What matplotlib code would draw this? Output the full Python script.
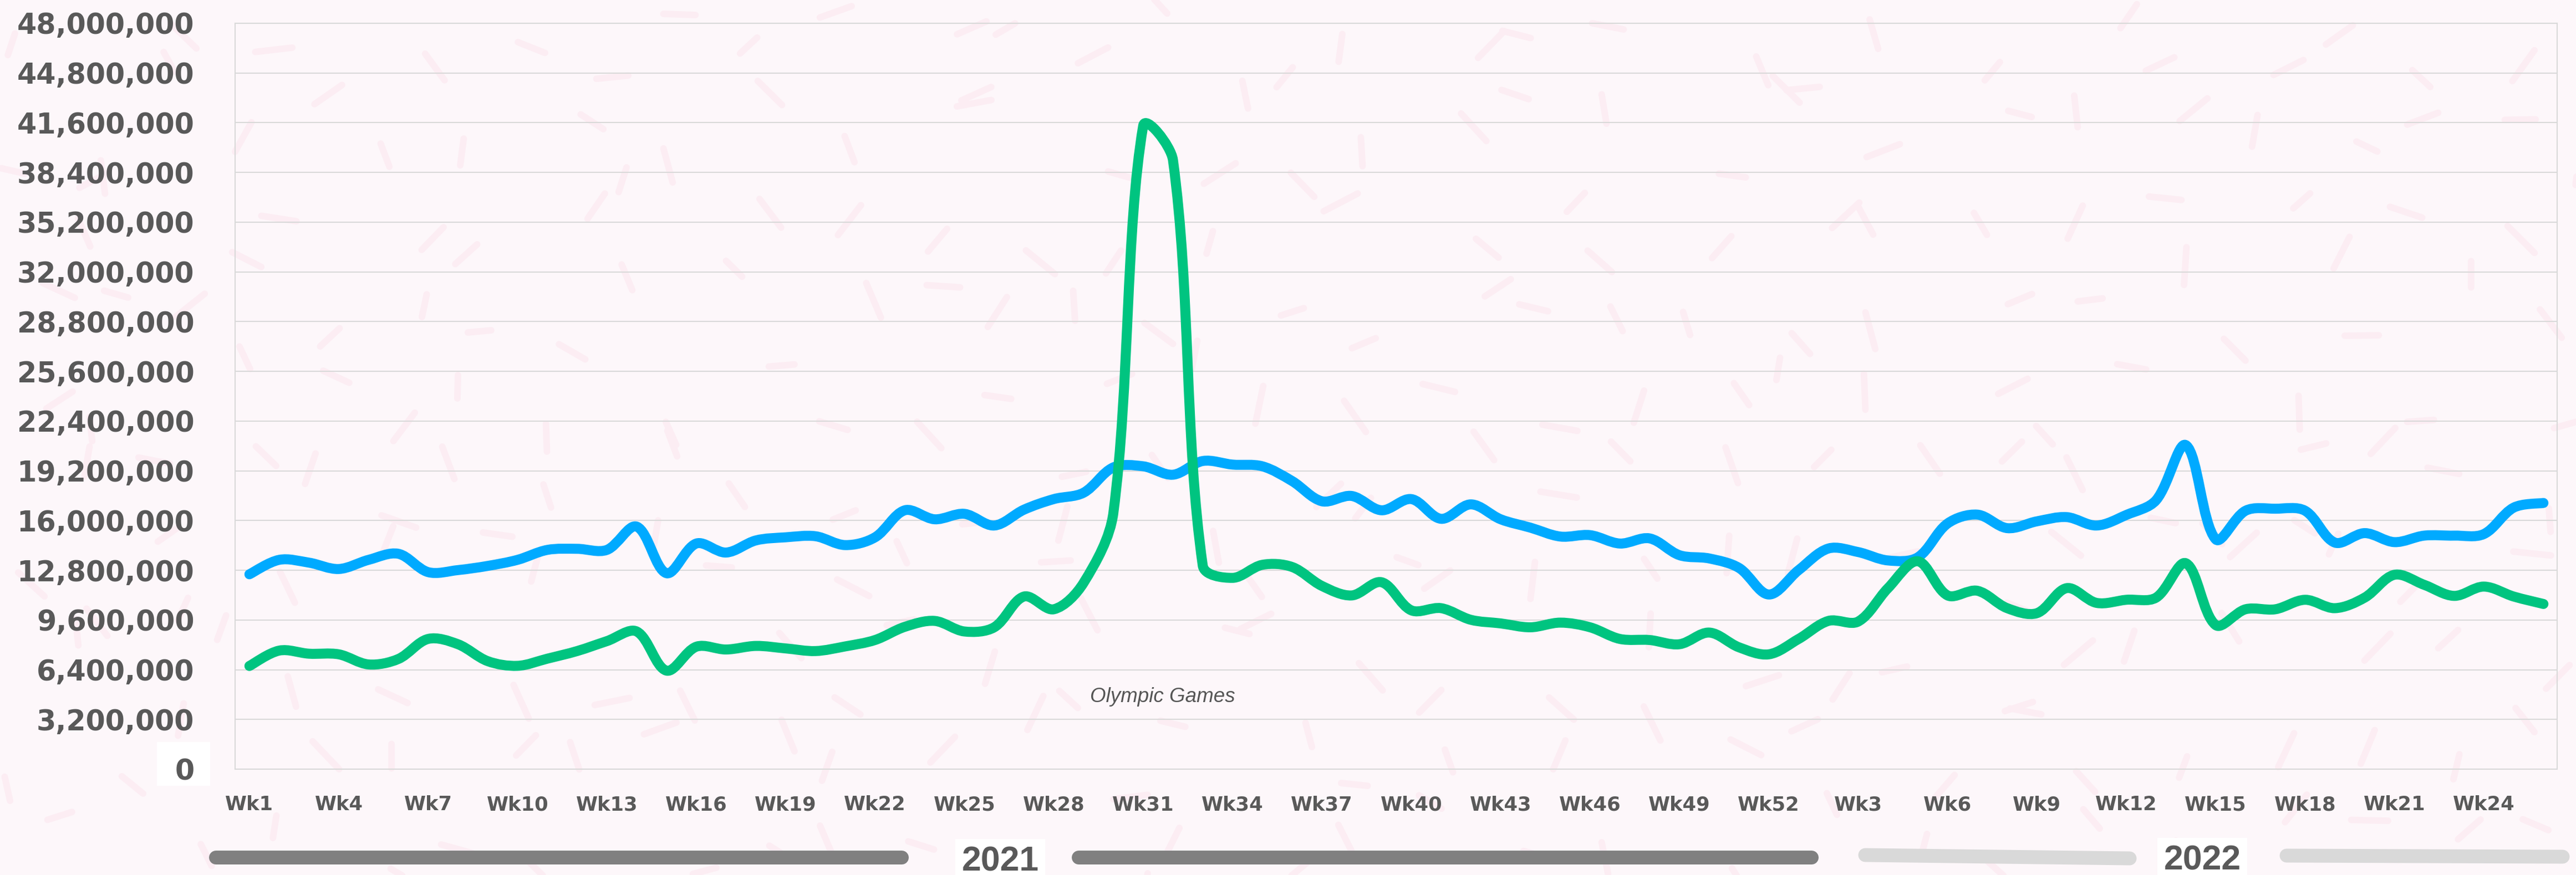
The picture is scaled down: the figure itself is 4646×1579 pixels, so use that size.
import numpy as np
import matplotlib
matplotlib.use("Agg")
import matplotlib.pyplot as plt
from matplotlib.path import Path
from matplotlib.patches import PathPatch, Rectangle
from matplotlib.lines import Line2D

# ── data (weekly values, millions) ───────────────────────────────────────────
weeks_2021 = list(range(1, 53))
weeks_2022 = list(range(1, 27))
week_labels = [f"Wk{w}" for w in weeks_2021 + weeks_2022]

blue_values = [
    12.54, 13.47, 13.29, 12.88, 13.47, 13.86, 12.68, 12.81, 13.08, 13.47,
    14.11, 14.18, 14.11, 15.61, 12.61, 14.52, 13.94, 14.72, 14.92, 14.99,
    14.42, 14.92, 16.66, 16.08, 16.43, 15.68, 16.70, 17.38, 17.79, 19.42,
    19.49, 18.95, 19.83, 19.60, 19.49, 18.54, 17.24, 17.58, 16.66, 17.38,
    16.11, 17.04, 16.08, 15.54, 14.97, 15.06, 14.52, 14.85, 13.77, 13.56,
    12.95, 11.24, 12.81, 14.20, 13.97, 13.43, 13.63, 15.81, 16.38, 15.51,
    15.95, 16.22, 15.68, 16.36, 17.31, 20.85, 14.79, 16.63, 16.76, 16.63,
    14.58, 15.19, 14.61, 15.03, 15.03, 15.13, 16.83, 17.13,
]
green_values = [
    6.64, 7.63, 7.43, 7.39, 6.74, 7.09, 8.38, 8.04, 6.95, 6.65,
    7.11, 7.60, 8.24, 8.86, 6.34, 7.88, 7.70, 7.93, 7.77, 7.60,
    7.90, 8.31, 9.16, 9.54, 8.86, 9.13, 11.11, 10.29, 11.99, 16.50,
    41.40, 39.20, 13.10, 12.31, 13.15, 13.01, 11.79, 11.18, 12.03, 10.22,
    10.36, 9.61, 9.38, 9.13, 9.43, 9.13, 8.38, 8.31, 8.04, 8.79,
    7.84, 7.39, 8.38, 9.54, 9.50, 11.65, 13.38, 11.18, 11.48, 10.36,
    10.04, 11.65, 10.70, 10.90, 11.04, 13.25, 9.27, 10.29, 10.29, 10.90,
    10.36, 11.04, 12.51, 11.86, 11.15, 11.75, 11.11, 10.63,
]
y_ticks = [3.2 * k for k in range(16)]
years = ["2021", "2022"]
annotation = "Olympic Games"
annotation_week = 30.65

# ── style ────────────────────────────────────────────────────────────────────
W_PX, H_PX, DPI = 4646, 1579, 100
BG = "#fdf7fa"
DASH = "#fcedf3"
GRID = "#d9d9d9"
TEXT = "#595959"
BLUE = "#00aaff"
GREEN = "#00c480"


def px_x(x):
    return x / W_PX


def px_y(y):
    return 1 - y / H_PX


def smooth_path(ys, yscale=0.5217):
    """Cubic Bezier path through the points, handles scaled by chord length."""
    xs = np.arange(len(ys), dtype=float)
    pts = np.column_stack([xs, np.asarray(ys, dtype=float)])
    screen = pts * [1.0, yscale]
    n = len(pts)
    out_h, in_h = np.zeros_like(pts), np.zeros_like(pts)
    for i in range(n):
        prv = pts[max(i - 1, 0)]
        nxt = pts[min(i + 1, n - 1)]
        dp = np.linalg.norm(screen[i] - screen[max(i - 1, 0)])
        dn = np.linalg.norm(screen[min(i + 1, n - 1)] - screen[i])
        tot = dp + dn if dp + dn > 0 else 1.0
        tan = nxt - prv
        if i == 0 or i == n - 1:
            dp = dn = tot / 2
        out_h[i] = pts[i] + tan * dn / tot / 3
        in_h[i] = pts[i] - tan * dp / tot / 3
    verts = [pts[0]]
    codes = [Path.MOVETO]
    for i in range(n - 1):
        verts += [out_h[i], in_h[i + 1], pts[i + 1]]
        codes += [Path.CURVE4] * 3
    return Path(verts, codes)


fig = plt.figure(figsize=(W_PX / DPI, H_PX / DPI), dpi=DPI, facecolor=BG)

# faint confetti dashes on the background
rng = np.random.default_rng(11)
step = 160
for gx in range(0, W_PX, step):
    for gy in range(0, H_PX + step, step):
        cx = gx + rng.uniform(0, step)
        cy = gy + rng.uniform(0, step)
        ang = rng.uniform(0, np.pi)
        ln = rng.uniform(40, 70) / 2
        dx, dy = ln * np.cos(ang), ln * np.sin(ang)
        fig.add_artist(Line2D([px_x(cx - dx), px_x(cx + dx)],
                              [px_y(cy - dy), px_y(cy + dy)],
                              transform=fig.transFigure, color=DASH, lw=8.5,
                              solid_capstyle="round", zorder=-2))

ax = fig.add_axes([px_x(424), px_y(1388), px_x(4612 - 424), (1388 - 42) / H_PX])
ax.set_facecolor("none")

n = len(blue_values)
ax.set_xlim(-0.48, n - 1 + 0.46)
ax.set_ylim(0, 48)

for vals, color, z in [(blue_values, BLUE, 3), (green_values, GREEN, 4)]:
    ax.add_patch(PathPatch(smooth_path(vals), facecolor="none", edgecolor=color,
                           lw=13, capstyle="round", joinstyle="round", zorder=z))

ax.set_yticks(y_ticks)
ax.set_yticklabels([f"{int(round(v * 1e6)):,}" for v in y_ticks],
                   fontweight="bold", fontsize=36.5, color=TEXT)
xt = list(range(0, n, 3))
ax.set_xticks(xt)
ax.set_xticklabels([week_labels[i] for i in xt], fontweight="bold",
                   fontsize=25.5, color=TEXT)
ax.tick_params(axis="both", length=0)
ax.tick_params(axis="y", pad=53)
ax.tick_params(axis="x", pad=34)

ax.yaxis.grid(True, color=GRID, lw=1.5)
ax.set_axisbelow(True)
for sp in ax.spines.values():
    sp.set_color(GRID)
    sp.set_linewidth(1.5)

ax.text(annotation_week, 4.64, annotation, ha="center", va="center",
        fontsize=26.5, style="italic", family="Liberation Sans", color="#555555")

# white patch behind the zero label
fig.add_artist(Rectangle((px_x(283), px_y(1418)), px_x(96), 79 / H_PX,
                         transform=fig.transFigure, facecolor="white",
                         edgecolor="none", zorder=-0.5))

# year brackets under the week axis
bars = [
    ((389, 1547), (1626, 1547), "#808080"),
    ((1945, 1547), (3267, 1547), "#808080"),
    ((3364, 1543), (3841, 1549), "#d9d9d9"),
    ((4124, 1544), (4622, 1546), "#d9d9d9"),
]
for (x0, y0), (x1, y1), col in bars:
    fig.add_artist(Line2D([px_x(x0), px_x(x1)], [px_y(y0), px_y(y1)],
                          transform=fig.transFigure, color=col, lw=18,
                          solid_capstyle="round", zorder=-0.5))

for label, xc, base in [(years[0], 1804, 1571), (years[1], 3972, 1569)]:
    fig.text(px_x(xc), px_y(base), label, ha="center", va="baseline",
             fontsize=45, fontweight="bold", family="Liberation Sans",
             color=TEXT, bbox=dict(facecolor="white", edgecolor="none", pad=8))

fig.savefig("out.png", dpi=DPI, facecolor=BG)
